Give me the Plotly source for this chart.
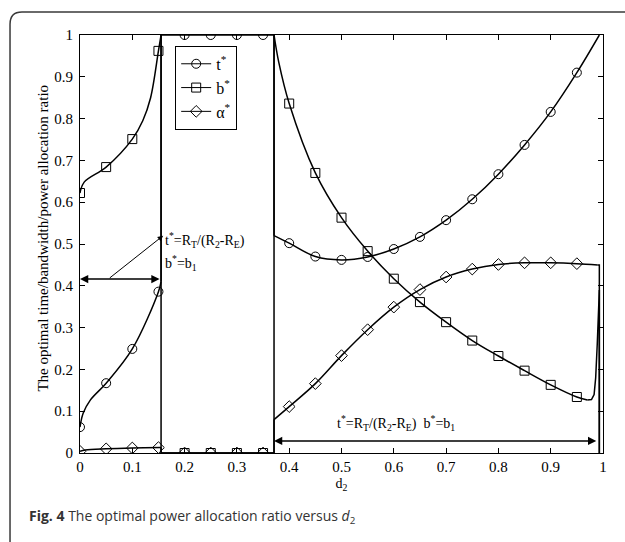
import plotly.graph_objects as go

# ---------------- data ----------------
# region boundaries on d2
d2_bound1 = 0.155
d2_bound2 = 0.371
d2_end = 0.993

# marker positions
x_mk_r1 = [0.00, 0.05, 0.10, 0.15]
x_mk_r2 = [0.20, 0.25, 0.30, 0.35]
x_mk_r3 = [0.40, 0.45, 0.50, 0.55, 0.60, 0.65, 0.70, 0.75, 0.80, 0.85, 0.90, 0.95]

t_mk_r1 = [0.062, 0.167, 0.249, 0.386]
b_mk_r1 = [0.622, 0.684, 0.751, 0.962]
a_mk_r1 = [0.004, 0.010, 0.012, 0.013]

t_mk_r2 = [1.0, 1.0, 1.0, 1.0]
b_mk_r2 = [0.0, 0.0, 0.0, 0.0]
a_mk_r2 = [0.0, 0.0, 0.0, 0.0]

t_mk_r3 = [0.502, 0.470, 0.462, 0.469, 0.488, 0.517, 0.557, 0.607, 0.667, 0.737, 0.816, 0.910]
b_mk_r3 = [0.836, 0.670, 0.563, 0.483, 0.417, 0.361, 0.313, 0.269, 0.232, 0.197, 0.163, 0.134]
a_mk_r3 = [0.111, 0.166, 0.233, 0.295, 0.349, 0.391, 0.421, 0.440, 0.451, 0.455, 0.455, 0.453]

# curve key points (region 1, smooth)
t_line_r1_x = [0.000, 0.006, 0.020, 0.050, 0.100, 0.150, 0.155]
t_line_r1_y = [0.062, 0.095, 0.127, 0.167, 0.249, 0.386, 0.410]
b_line_r1_x = [0.000, 0.008, 0.050, 0.100, 0.120, 0.135, 0.150, 0.155]
b_line_r1_y = [0.622, 0.648, 0.684, 0.751, 0.795, 0.850, 0.962, 1.000]
a_line_r1_x = [0.000, 0.010, 0.050, 0.100, 0.155]
a_line_r1_y = [0.004, 0.007, 0.010, 0.012, 0.013]

# region 2 (flat, with the jumps at the boundaries)
t_line_r2_x = [d2_bound1, d2_bound1, d2_bound2, d2_bound2]
t_line_r2_y = [0.410, 1.0, 1.0, 0.520]
b_line_r2_x = [d2_bound1, d2_bound1, d2_bound2, d2_bound2]
b_line_r2_y = [1.0, 0.0, 0.0, 1.0]
a_line_r2_x = [d2_bound1, d2_bound1, d2_bound2, d2_bound2]
a_line_r2_y = [0.013, 0.0, 0.0, 0.080]

# region 3 (smooth)
t_line_r3_x = [d2_bound2] + x_mk_r3 + [d2_end]
t_line_r3_y = [0.520] + t_mk_r3 + [1.0]
b_line_r3_x = [d2_bound2, 0.380] + x_mk_r3 + [0.970]
b_line_r3_y = [1.0, 0.935] + b_mk_r3 + [0.127]
a_line_r3_x = [d2_bound2] + x_mk_r3 + [0.990]
a_line_r3_y = [0.080] + a_mk_r3 + [0.450]

# end collapse near d2 = 1 (straight pieces)
b_line_end_x = [0.970, 0.978, 0.983, 0.986, 0.989, 0.992, d2_end, d2_end]
b_line_end_y = [0.127, 0.128, 0.140, 0.180, 0.260, 0.390, 0.390, 0.0]
a_line_end_x = [0.990, d2_end, d2_end]
a_line_end_y = [0.450, 0.450, 0.0]

x_ticks = [0, 0.1, 0.2, 0.3, 0.4, 0.5, 0.6, 0.7, 0.8, 0.9, 1]
x_tick_text = ["0", "0.1", "0.2", "0.3", "0.4", "0.5", "0.6", "0.7", "0.8", "0.9", "1"]
y_ticks = [0, 0.1, 0.2, 0.3, 0.4, 0.5, 0.6, 0.7, 0.8, 0.9, 1]
y_tick_text = ["0", "0.1", "0.2", "0.3", "0.4", "0.5", "0.6", "0.7", "0.8", "0.9", "1"]

series_names = ["t<sup>*</sup>", "b<sup>*</sup>", "α<sup>*</sup>"]
series_symbols = ["circle-open", "square-open", "diamond-open"]

# ---------------- figure ----------------
SERIF = "Liberation Serif, Times New Roman, serif"
fig = go.Figure()

def add_line(x, y, shape):
    fig.add_trace(go.Scatter(x=x, y=y, mode="lines",
                             line=dict(color="black", width=1.5, shape=shape),
                             showlegend=False, hoverinfo="skip"))

def add_marks(x, y, sym):
    fig.add_trace(go.Scatter(x=x, y=y, mode="markers",
                             marker=dict(symbol=sym, size=9, color="black",
                                         line=dict(color="black", width=1)),
                             showlegend=False, hoverinfo="skip"))

add_line(t_line_r1_x, t_line_r1_y, "spline")
add_line(b_line_r1_x, b_line_r1_y, "spline")
add_line(a_line_r1_x, a_line_r1_y, "spline")
add_line(t_line_r2_x, t_line_r2_y, "linear")
add_line(b_line_r2_x, b_line_r2_y, "linear")
add_line(a_line_r2_x, a_line_r2_y, "linear")
add_line(t_line_r3_x, t_line_r3_y, "spline")
add_line(b_line_r3_x, b_line_r3_y, "spline")
add_line(a_line_r3_x, a_line_r3_y, "spline")
add_line(b_line_end_x, b_line_end_y, "linear")
add_line(a_line_end_x, a_line_end_y, "linear")

add_marks(x_mk_r1 + x_mk_r2 + x_mk_r3, t_mk_r1 + t_mk_r2 + t_mk_r3, series_symbols[0])
add_marks(x_mk_r1 + x_mk_r2 + x_mk_r3, b_mk_r1 + b_mk_r2 + b_mk_r3, series_symbols[1])
add_marks(x_mk_r1 + x_mk_r2 + x_mk_r3, a_mk_r1 + a_mk_r2 + a_mk_r3, series_symbols[2])

# legend entries
for name, sym in zip(series_names, series_symbols):
    fig.add_trace(go.Scatter(x=[None], y=[None], mode="lines+markers", name=name,
                             line=dict(color="black", width=1),
                             marker=dict(symbol=sym, size=9, color="black",
                                         line=dict(color="black", width=1))))

# arrows
arrow_style = dict(showarrow=True, text="", xref="x", yref="y", axref="x", ayref="y",
                   arrowcolor="black", arrowhead=2, arrowsize=1.1)
fig.add_annotation(x=0.0, y=0.416, ax=d2_bound1, ay=0.416, arrowside="end+start",
                   arrowwidth=1.5, **arrow_style)
fig.add_annotation(x=0.159, y=0.52, ax=0.054, ay=0.416, arrowwidth=1, **arrow_style)
fig.add_annotation(x=d2_bound2, y=0.029, ax=0.99, ay=0.029, arrowside="end+start",
                   arrowwidth=1.5, **arrow_style)

label_font = dict(family=SERIF, size=14, color="black")
fig.add_annotation(x=0.159, y=0.51, xref="x", yref="y", xanchor="left", yanchor="middle",
                   text="t<sup>*</sup>=R<sub>T</sub>/(R<sub>2</sub>-R<sub>E</sub>)",
                   showarrow=False, font=label_font)
fig.add_annotation(x=0.159, y=0.455, xref="x", yref="y", xanchor="left", yanchor="middle",
                   text="b<sup>*</sup>=b<sub>1</sub>", showarrow=False, font=label_font)
fig.add_annotation(x=0.487, y=0.072, xref="x", yref="y", xanchor="left", yanchor="middle",
                   text="t<sup>*</sup>=R<sub>T</sub>/(R<sub>2</sub>-R<sub>E</sub>)&nbsp;&nbsp;b<sup>*</sup>=b<sub>1</sub>",
                   showarrow=False, font=label_font)

# y-axis title (placed as rotated text)
fig.add_annotation(x=-0.070, y=0.514, xref="paper", yref="paper", xanchor="center",
                   yanchor="middle", textangle=-90, showarrow=False,
                   text="The optimal time/bandwidth/power allocation ratio",
                   font=dict(family=SERIF, size=15, color="black"))

# caption
fig.add_annotation(x=-0.101, y=-0.153, xref="paper", yref="paper", xanchor="left",
                   yanchor="middle", showarrow=False,
                   text="<b>Fig. 4</b> The optimal power allocation ratio versus <i>d</i><sub>2</sub>",
                   font=dict(family="Open Sans, sans-serif", size=14, color="#333333"))

# outer rounded frame (left and top edges)
fig.add_shape(type="path", xref="paper", yref="paper",
              path="M -0.1338,-0.30 L -0.1338,1.026 Q -0.1338,1.055 -0.111,1.055 L 1.10,1.055",
              line=dict(color="#3a3a3a", width=1.5))

axis_common = dict(showline=True, linecolor="black", linewidth=1, mirror="ticks",
                   ticks="inside", ticklen=5, tickcolor="black", showgrid=False,
                   zeroline=False, tickfont=dict(family=SERIF, size=15, color="black"))

fig.update_layout(
    width=625, height=542,
    margin=dict(l=80, r=22, t=35, b=89),
    paper_bgcolor="white", plot_bgcolor="white",
    showlegend=True,
    legend=dict(x=0.182, y=0.974, xanchor="left", yanchor="top",
                bgcolor="white", bordercolor="black", borderwidth=1,
                font=dict(family=SERIF, size=16, color="black"),
                itemwidth=30, tracegroupgap=0),
    xaxis=dict(range=[0, 1], tickvals=x_ticks, ticktext=x_tick_text,
               title=dict(text="d<sub>2</sub>", font=dict(family=SERIF, size=14, color="black"),
                          standoff=4),
               **axis_common),
    yaxis=dict(range=[0, 1], tickvals=y_ticks, ticktext=y_tick_text,
               ticklabelstandoff=3, **axis_common),
)

fig.write_html("out.html")
